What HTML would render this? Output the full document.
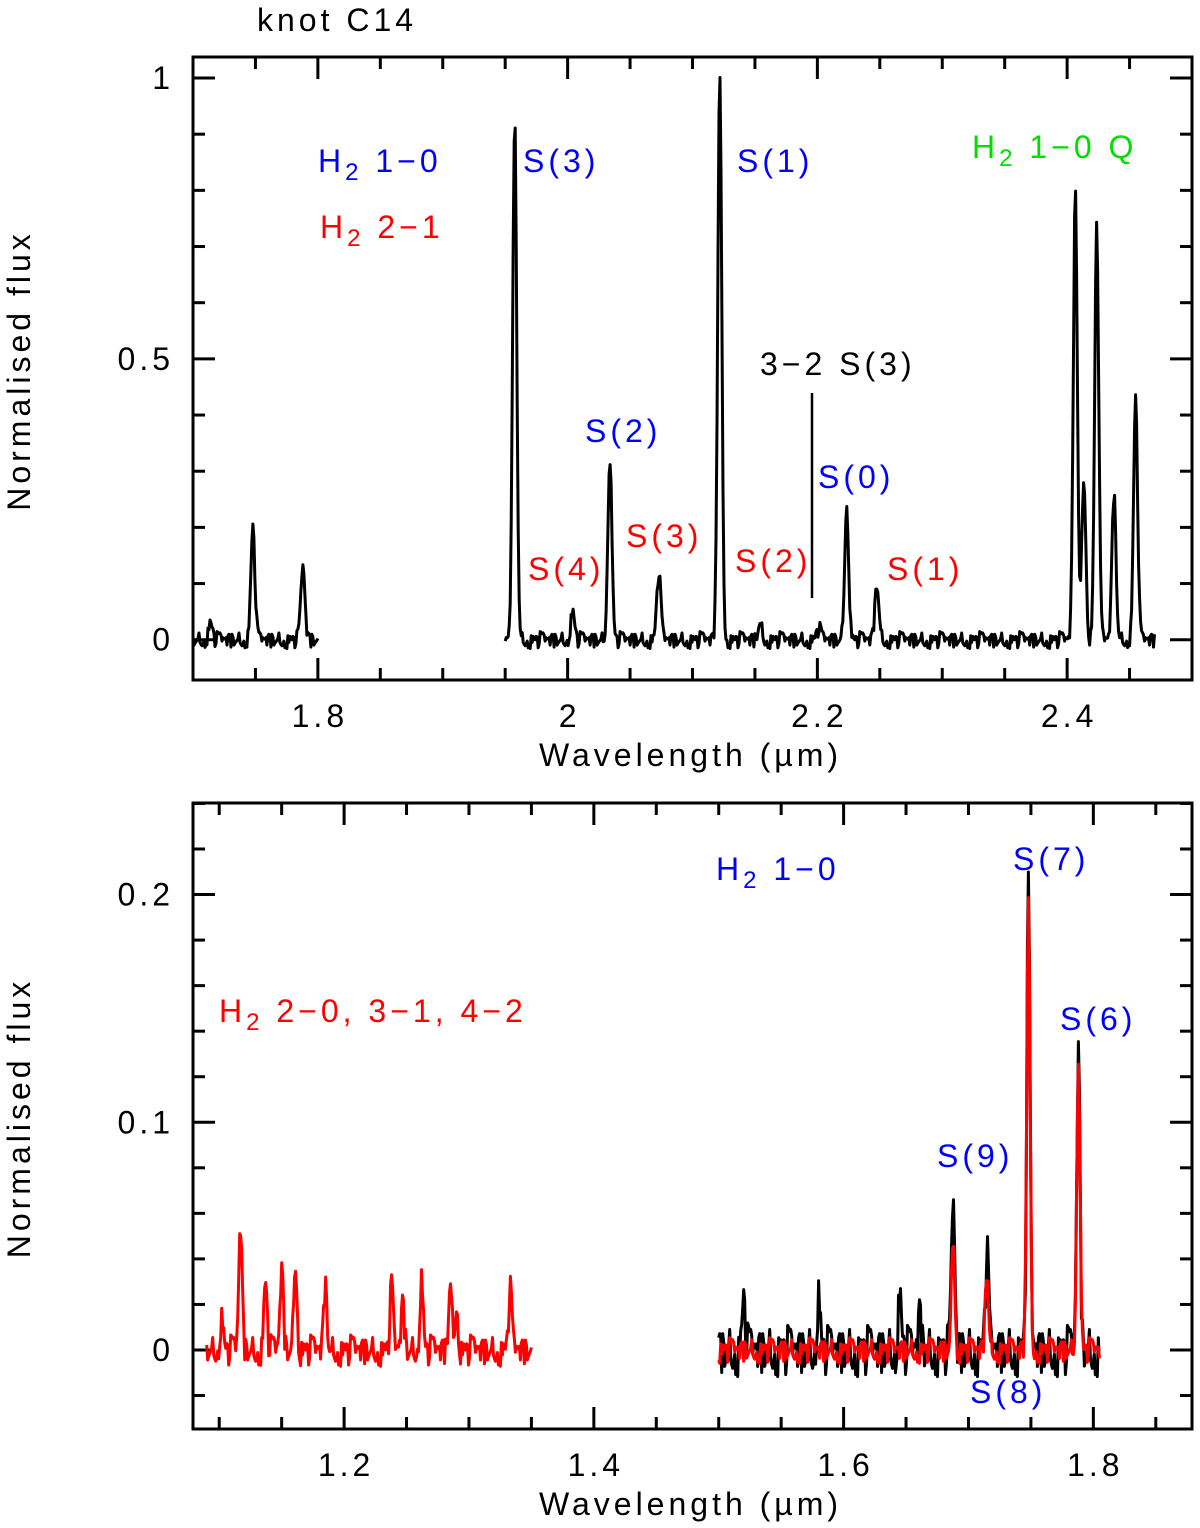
<!DOCTYPE html>
<html><head><meta charset="utf-8"><style>
html,body{margin:0;padding:0;background:#fff;}
svg{display:block;font-family:"Liberation Sans","DejaVu Sans",sans-serif;}
text{font-size:32px;letter-spacing:4px;}
</style></head><body>
<svg id="chart" width="1200" height="1528" viewBox="0 0 1200 1528" xmlns="http://www.w3.org/2000/svg">
<g id="top"></g>
<g id="bot"></g>
<text x="257" y="31" font-size="30">knot C14</text>
<g>
<text x="318" y="172" fill="#0000ff">H<tspan font-size="24" dy="8">2</tspan><tspan dy="-8"> 1−0</tspan></text>
<text x="320" y="238" fill="#ff0000">H<tspan font-size="24" dy="8">2</tspan><tspan dy="-8"> 2−1</tspan></text>
<text x="523" y="172" fill="#0000ff">S(3)</text>
<text x="737" y="172" fill="#0000ff">S(1)</text>
<text x="972" y="158" fill="#00dd00">H<tspan font-size="24" dy="8">2</tspan><tspan dy="-8"> 1−0 Q</tspan></text>
<text x="585" y="442" fill="#0000ff">S(2)</text>
<text x="760" y="375" fill="#000">3−2 S(3)</text>
<line x1="812" y1="393" x2="812" y2="598" stroke="#000" stroke-width="2.5"/>
<text x="818" y="488" fill="#0000ff">S(0)</text>
<text x="528" y="580" fill="#ff0000">S(4)</text>
<text x="626" y="547" fill="#ff0000">S(3)</text>
<text x="735" y="572" fill="#ff0000">S(2)</text>
<text x="887" y="580" fill="#ff0000">S(1)</text>
</g>
<g>
<text x="716" y="880" fill="#0000ff">H<tspan font-size="24" dy="8">2</tspan><tspan dy="-8"> 1−0</tspan></text>
<text x="1013" y="870" fill="#0000ff">S(7)</text>
<text x="1060" y="1030" fill="#0000ff">S(6)</text>
<text x="937" y="1167" fill="#0000ff">S(9)</text>
<text x="970" y="1403" fill="#0000ff">S(8)</text>
<text x="219" y="1022" fill="#ff0000">H<tspan font-size="24" dy="8">2</tspan><tspan dy="-8"> 2−0, 3−1, 4−2</tspan></text>
</g>
</svg>
<script>
// ---- data ----
const topXTicks = [1.8, 2.0, 2.2, 2.4];
const topXTickLabels = ["1.8", "2", "2.2", "2.4"];
const topYTicks = [0, 0.5, 1];
const topYTickLabels = ["0", "0.5", "1"];
const botXTicks = [1.2, 1.4, 1.6, 1.8];
const botXTickLabels = ["1.2", "1.4", "1.6", "1.8"];
const botYTicks = [0, 0.1, 0.2];
const botYTickLabels = ["0", "0.1", "0.2"];
// emission lines: centre (µm), peak height
const topLineCentres = [1.714, 1.748, 1.788, 1.9576, 2.004, 2.0338, 2.073, 2.1218, 2.154, 2.201, 2.2235, 2.2477, 2.4066, 2.4134, 2.4237, 2.4375, 2.4548];
const topLineHeights = [0.03, 0.2, 0.13, 0.93, 0.05, 0.33, 0.12, 1.01, 0.03, 0.02, 0.24, 0.1, 0.8, 0.29, 0.74, 0.26, 0.43];
const topSegments = [[1.70, 1.80], [1.95, 2.47]];
const botRedLeftCentres = [1.102, 1.117, 1.137, 1.150, 1.161, 1.185, 1.238, 1.247, 1.262, 1.285, 1.290, 1.333];
const botRedLeftHeights = [0.015, 0.055, 0.03, 0.035, 0.04, 0.028, 0.027, 0.02, 0.032, 0.03, 0.02, 0.026];
const botRightCentres = [1.6877, 1.7147, 1.7480, 1.7880];
const botBlackHeights = [0.065, 0.042, 0.2, 0.13];
const botRedHeights = [0.05, 0.035, 0.2, 0.13];
const botBlackExtraCentres = [1.52, 1.58, 1.645, 1.661];
const botBlackExtraHeights = [0.022, 0.025, 0.025, 0.015];
// hand-read baseline noise pattern (normalised units)
const noise = [0.004,-0.006,0.010,-0.002,-0.012,0.006,0.001,-0.008,0.012,-0.004,0.003,-0.010,0.008,0.000,-0.005,0.011,-0.007,0.002,-0.013,0.007,0.005,-0.003,0.009,-0.009,0.001,0.006,-0.011,0.004,-0.001,0.010,-0.006,0.003,-0.004,0.008,-0.012,0.002,0.007,-0.002,-0.008,0.005];

const NS="http://www.w3.org/2000/svg";
function mk(tag, attrs, parent){const e=document.createElementNS(NS,tag);for(const k in attrs)e.setAttribute(k,attrs[k]);parent.appendChild(e);return e;}

function panel(g, box, xr, yr, xt, xtl, yt, ytl, xminor, yminor){
  const sx=v=>box.x0+(v-xr[0])/(xr[1]-xr[0])*(box.x1-box.x0);
  const sy=v=>box.y1-(v-yr[0])/(yr[1]-yr[0])*(box.y1-box.y0);
  const frame=mk('rect',{x:box.x0,y:box.y0,width:box.x1-box.x0,height:box.y1-box.y0,fill:'none',stroke:'#000','stroke-width':3},g);
  
  
  const ticks=mk('g',{stroke:'#000','stroke-width':3},g);
  
  
  for(let v=Math.ceil(xr[0]/xminor)*xminor; v<=xr[1]+1e-9; v+=xminor){
    const major=xt.some(t=>Math.abs(t-v)<1e-6); const L=major?22:12; const x=sx(v);
    mk('line',{x1:x,y1:box.y1,x2:x,y2:box.y1-L},ticks); mk('line',{x1:x,y1:box.y0,x2:x,y2:box.y0+L},ticks);
  }
  for(let v=Math.ceil(yr[0]/yminor)*yminor; v<=yr[1]+1e-9; v+=yminor){
    const major=yt.some(t=>Math.abs(t-v)<1e-6); const L=major?22:12; const y=sy(v);
    mk('line',{x1:box.x0,y1:y,x2:box.x0+L,y2:y},ticks); mk('line',{x1:box.x1,y1:y,x2:box.x1-L,y2:y},ticks);
  }
  xt.forEach((v,i)=>{const t=mk('text',{x:sx(v)+2,y:box.y1+47,'text-anchor':'middle'},g);t.textContent=xtl[i];
    
    });
  yt.forEach((v,i)=>{const t=mk('text',{x:174,y:sy(v)+11,'text-anchor':'end'},g);t.textContent=ytl[i];
    
    });
  const xtit=mk('text',{x:(box.x0+box.x1)/2-2,y:box.y1+86,'text-anchor':'middle'},g);xtit.textContent='Wavelength (µm)';
  
  
  const cy=(box.y0+box.y1)/2+2;
  const ytit=mk('text',{x:30,y:cy,'text-anchor':'middle',transform:`rotate(-90 30 ${cy})`},g);ytit.textContent='Normalised flux';
  
  
  return {sx,sy};
}

function spectrum(a,b,centres,heights,sigma,noiseAmp,offset){
  const pts=[]; let i=0;
  for(let w=a; w<=b+1e-9; w+=0.0008, i++){
    let f=noise[(i*7+offset)%noise.length]*noiseAmp;
    for(let k=0;k<centres.length;k++){const d=(w-centres[k])/sigma; f+=heights[k]*Math.exp(-0.5*d*d);}
    pts.push([w,f]);
  }
  return pts;
}
function drawLine(g,pts,ax,color,w,name){
  const d=pts.map((p,i)=>(i?'L':'M')+ax.sx(p[0]).toFixed(1)+' '+ax.sy(p[1]).toFixed(1)).join('');
  const p=mk('path',{d,fill:'none',stroke:color,'stroke-width':w,'stroke-linejoin':'round'},g);
  
  
}

const gt=document.getElementById('top');
const axT=panel(gt,{x0:193,x1:1192,y0:57,y1:680},[1.7,2.5],[-0.0717,1.0374],topXTicks,topXTickLabels,topYTicks,topYTickLabels,0.05,0.1);
topSegments.forEach((s,i)=>drawLine(gt,spectrum(s[0],s[1],topLineCentres,topLineHeights,0.0016,1.2,i*3),axT,'#000',3,'top-spectrum-segment'));

const gb=document.getElementById('bot');
const axB=panel(gb,{x0:193,x1:1192,y0:803,y1:1429},[1.079,1.879],[-0.0347,0.2402],botXTicks,botXTickLabels,botYTicks,botYTickLabels,0.05,0.02);
drawLine(gb,spectrum(1.50,1.805,botRightCentres.concat(botBlackExtraCentres),botBlackHeights.concat(botBlackExtraHeights),0.0013,0.9,5),axB,'#000',3,'black-spectrum');
drawLine(gb,spectrum(1.09,1.35,botRedLeftCentres,botRedLeftHeights,0.0013,0.55,0),axB,'#ff0000',3,'red-spectrum-left');
drawLine(gb,spectrum(1.50,1.805,botRightCentres,botRedHeights,0.0013,0.45,11),axB,'#ff0000',3,'red-spectrum-right');
</script>
</body></html>
